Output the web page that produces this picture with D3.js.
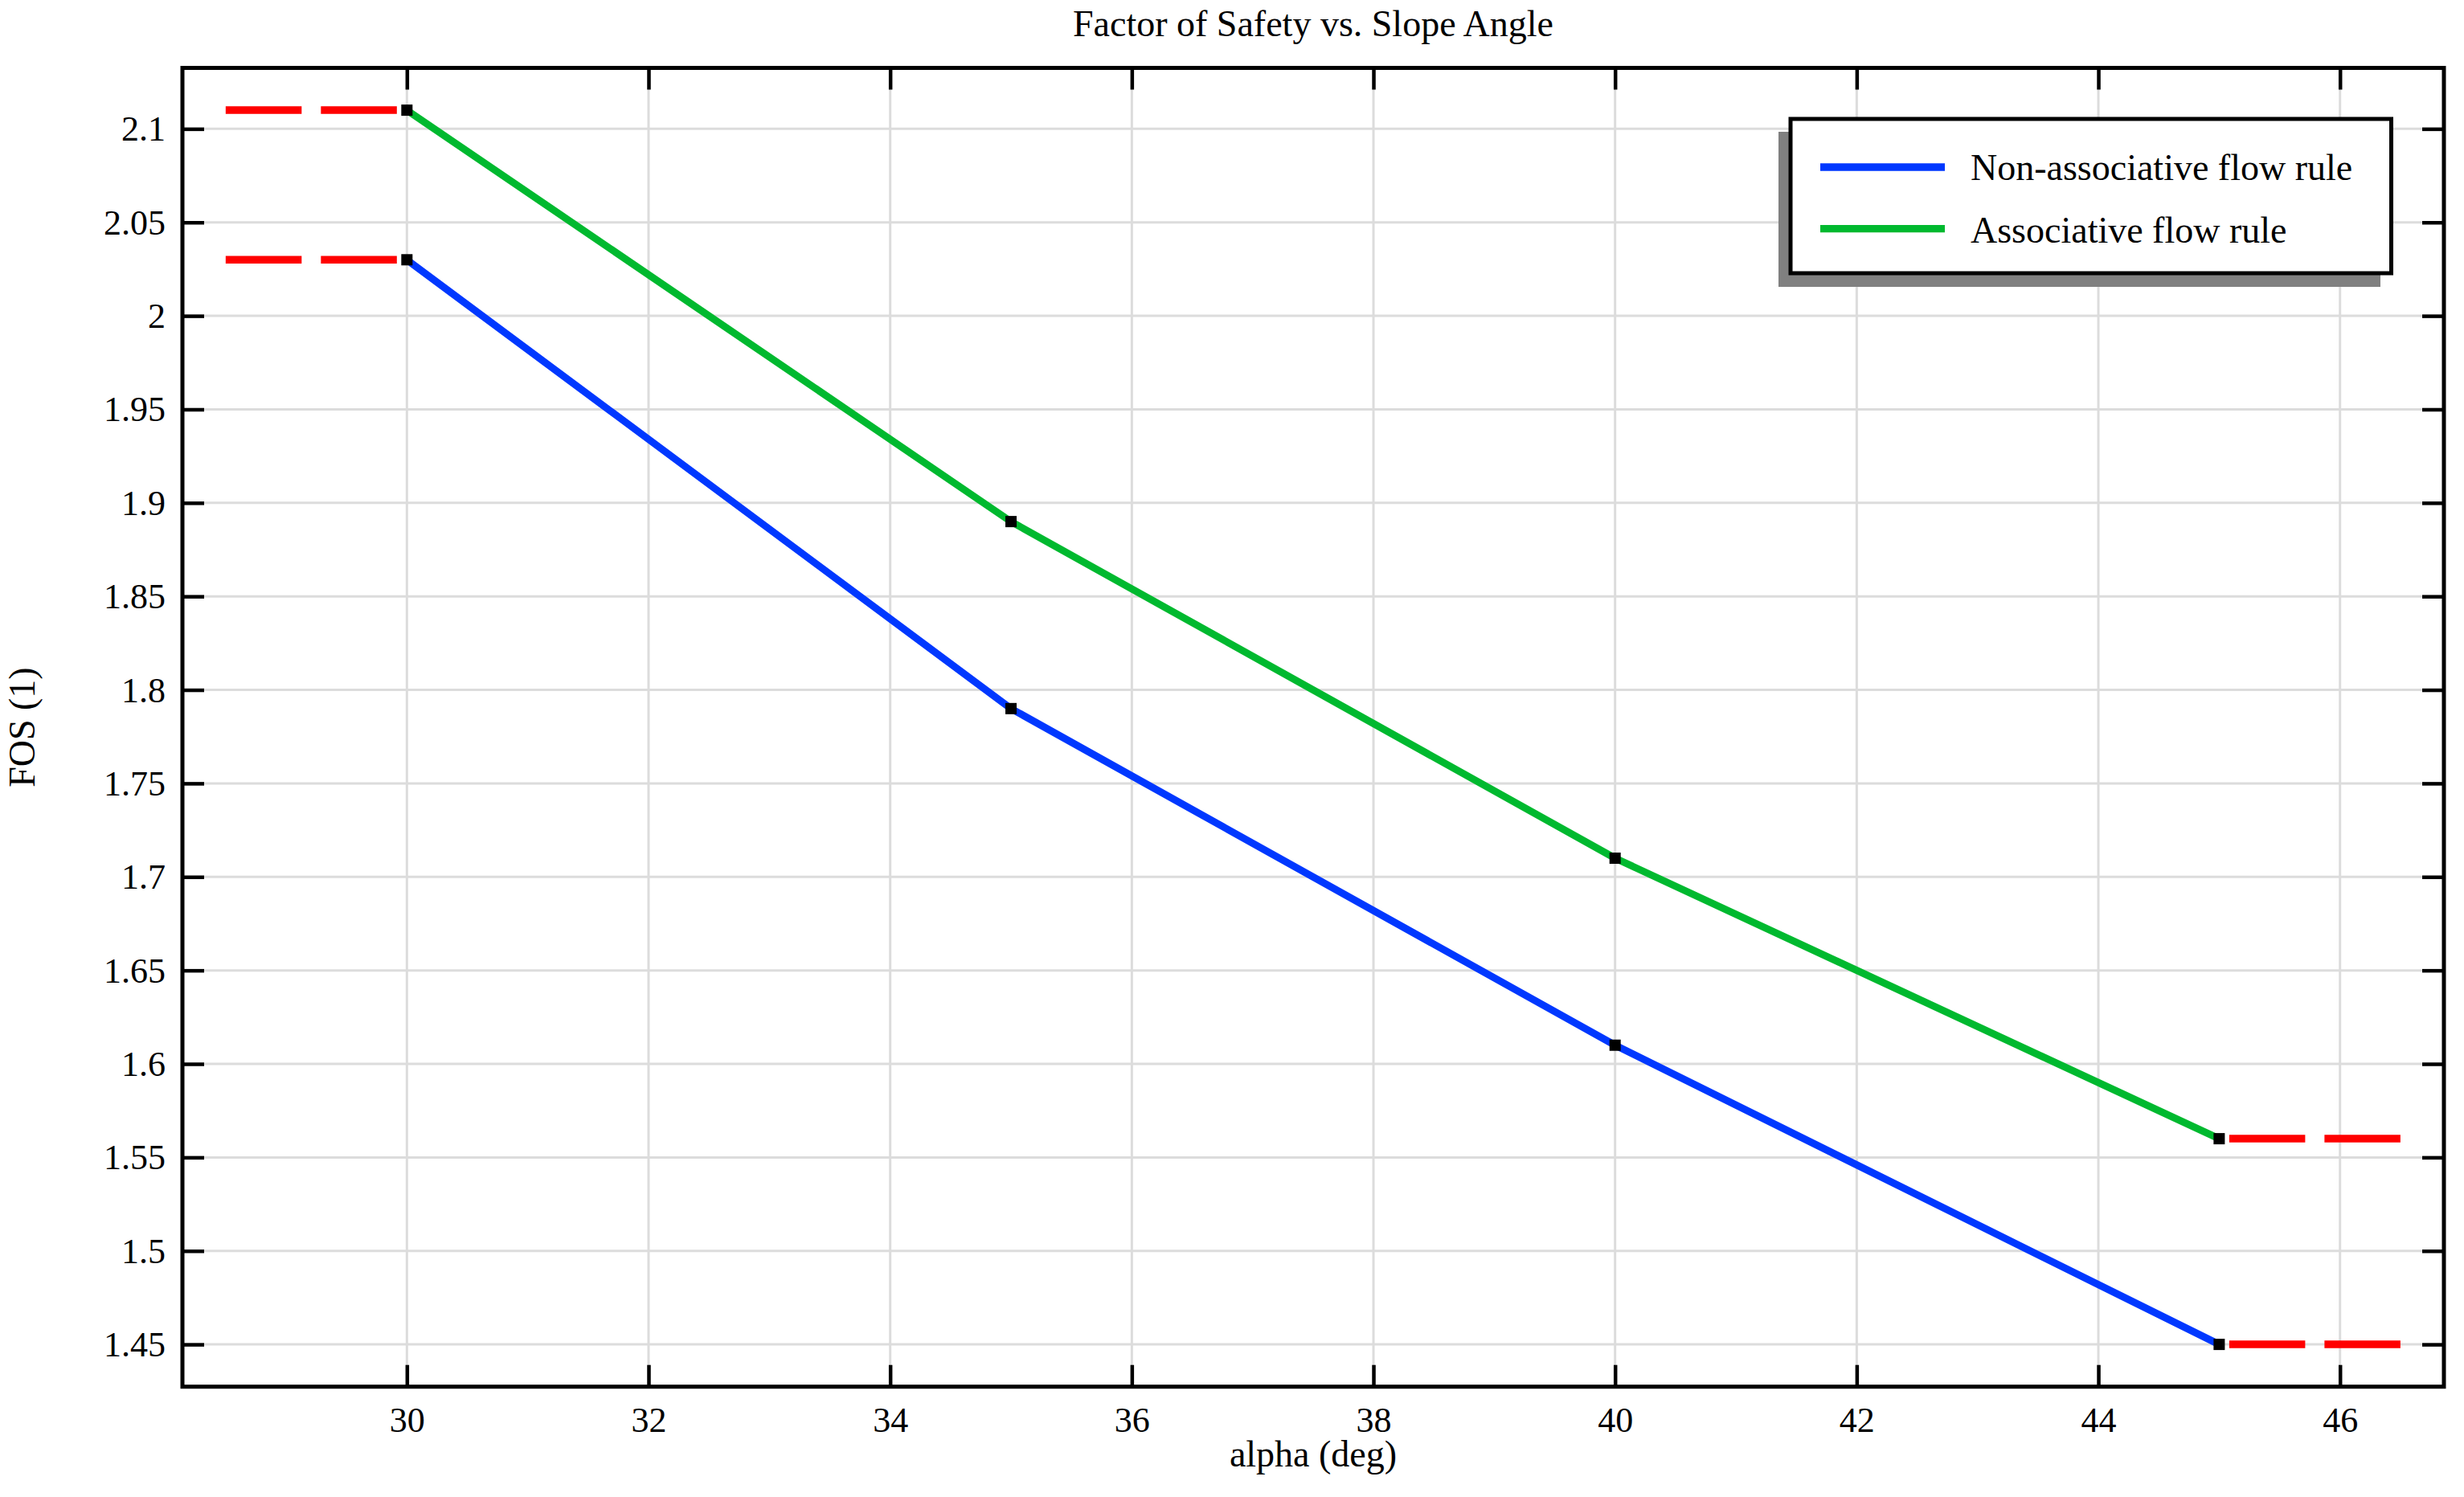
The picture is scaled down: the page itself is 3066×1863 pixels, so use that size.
<!DOCTYPE html>
<html>
<head>
<meta charset="utf-8">
<script src="https://cdn.jsdelivr.net/npm/d3@7/dist/d3.min.js"></script>
<style>
  html, body { margin: 0; padding: 0; background: #fff; }
  svg { display: block; }
  text { font-family: "Liberation Serif", "Times New Roman", "DejaVu Serif", serif; fill: #000; }
</style>
</head>
<body>
<svg id="chart" width="3066" height="1863"></svg>
<script>
// ---- data ----
const alpha = [30, 35, 40, 45];
const fosNonAssociative = [2.03, 1.79, 1.61, 1.45];
const fosAssociative = [2.11, 1.89, 1.71, 1.56];
const extLeft = [28.5, 30];   // dashed extension left (at alpha = 30 values)
const extRight = [46.5, 45];  // dashed extension right (at alpha = 45 values)
const xTickValues = [30, 32, 34, 36, 38, 40, 42, 44, 46];
const xTickLabels = ["30", "32", "34", "36", "38", "40", "42", "44", "46"];
const yTickValues = [1.45, 1.5, 1.55, 1.6, 1.65, 1.7, 1.75, 1.8, 1.85, 1.9, 1.95, 2, 2.05, 2.1];
const yTickLabels = ["1.45", "1.5", "1.55", "1.6", "1.65", "1.7", "1.75", "1.8", "1.85", "1.9", "1.95", "2", "2.05", "2.1"];
const seriesNames = ["Non-associative flow rule", "Associative flow rule"];
const seriesColors = ["#0038ff", "#00b92f"];

// ---- layout ----
const FONT = '"Liberation Serif", "Times New Roman", serif';
const L = 227, R = 3041, T = 84.5, B = 1725.7;
const W = R - L, H = B - T;
const svg = d3.select("#chart");

const x = d3.scaleLinear().domain([28.142, 46.86]).range([0, W]);
const y = d3.scaleLinear().domain([1.4274, 2.1326]).range([H, 0]);

const g = svg.append("g").attr("transform", `translate(${L},${T})`);

// gridlines
g.append("g").selectAll("line").data(xTickValues).join("line")
  .attr("x1", d => x(d)).attr("x2", d => x(d)).attr("y1", 0).attr("y2", H)
  .attr("stroke", "#dcdcdc").attr("stroke-width", 3);
g.append("g").selectAll("line").data(yTickValues).join("line")
  .attr("y1", d => y(d)).attr("y2", d => y(d)).attr("x1", 0).attr("x2", W)
  .attr("stroke", "#dcdcdc").attr("stroke-width", 3);

// dashed red extensions
const line = d3.line().x(d => x(d[0])).y(d => y(d[1]));
const series = [fosNonAssociative, fosAssociative];
const n = alpha.length;
series.forEach(s => {
  [[extLeft, s[0]], [extRight, s[n - 1]]].forEach(([xs, v]) => {
    g.append("path")
      .attr("d", line(xs.map(xx => [xx, v])))
      .attr("fill", "none").attr("stroke", "#ff0000")
      .attr("stroke-width", 9.5).attr("stroke-dasharray", "94.5 24");
  });
});

// data lines
series.forEach((s, i) => {
  g.append("path")
    .attr("d", line(alpha.map((a, k) => [a, s[k]])))
    .attr("fill", "none").attr("stroke", seriesColors[i])
    .attr("stroke-width", 9).attr("stroke-linejoin", "round");
});

// markers
series.forEach(s => {
  g.append("g").selectAll("rect").data(alpha.map((a, k) => [a, s[k]])).join("rect")
    .attr("x", d => x(d[0]) - 7).attr("y", d => y(d[1]) - 7)
    .attr("width", 14).attr("height", 14).attr("fill", "#000");
});

// axes (inward ticks on all four sides)
const tickLen = 27;
const axB = g.append("g").attr("transform", `translate(0,${H})`)
  .call(d3.axisBottom(x).tickValues(xTickValues).tickSizeInner(-tickLen).tickSizeOuter(0)
    .tickFormat((d, i) => xTickLabels[i]));
axB.selectAll("text").attr("y", 56).attr("dy", 0);
const axT = g.append("g")
  .call(d3.axisTop(x).tickValues(xTickValues).tickSizeInner(-tickLen).tickSizeOuter(0).tickFormat(""));
const axL = g.append("g")
  .call(d3.axisLeft(y).tickValues(yTickValues).tickSizeInner(-tickLen).tickSizeOuter(0)
    .tickFormat((d, i) => yTickLabels[i]));
axL.selectAll("text").attr("x", -21).attr("dy", "0.33em");
const axR = g.append("g").attr("transform", `translate(${W},0)`)
  .call(d3.axisRight(y).tickValues(yTickValues).tickSizeInner(-tickLen).tickSizeOuter(0).tickFormat(""));
[axB, axT, axL, axR].forEach(a => {
  a.attr("font-family", FONT).attr("font-size", 44);
  a.select(".domain").remove();
  a.selectAll(".tick line").attr("stroke", "#000").attr("stroke-width", 4.5);
  a.selectAll("text").attr("fill", "#000").attr("font-family", FONT).attr("font-size", 44)
    .style("font-family", FONT);
});

// frame
g.append("rect").attr("x", 0).attr("y", 0).attr("width", W).attr("height", H)
  .attr("fill", "none").attr("stroke", "#000").attr("stroke-width", 5);

// titles
svg.append("text").attr("x", L + W / 2).attr("y", 45).attr("text-anchor", "middle")
  .attr("font-size", 46).text("Factor of Safety vs. Slope Angle");
svg.append("text").attr("x", L + W / 2).attr("y", 1825).attr("text-anchor", "middle")
  .attr("font-size", 46).text("alpha (deg)");
svg.append("text").attr("transform", `translate(43,${T + H / 2}) rotate(-90)`)
  .attr("text-anchor", "middle").attr("font-size", 46).text("FOS (1)");

// legend
const lg = svg.append("g");
lg.append("rect").attr("x", 2213).attr("y", 164).attr("width", 749).attr("height", 193).attr("fill", "#808080");
lg.append("rect").attr("x", 2228).attr("y", 148).attr("width", 747.5).attr("height", 192)
  .attr("fill", "#fff").attr("stroke", "#000").attr("stroke-width", 5);
const legY = [208, 284.7];
const legBase = [224, 301.5];
seriesNames.forEach((name, i) => {
  lg.append("line").attr("x1", 2265).attr("x2", 2420).attr("y1", legY[i]).attr("y2", legY[i])
    .attr("stroke", seriesColors[i]).attr("stroke-width", 9.3);
  lg.append("text").attr("x", 2452).attr("y", legBase[i]).attr("font-size", 46).text(name);
});
</script>
</body>
</html>
